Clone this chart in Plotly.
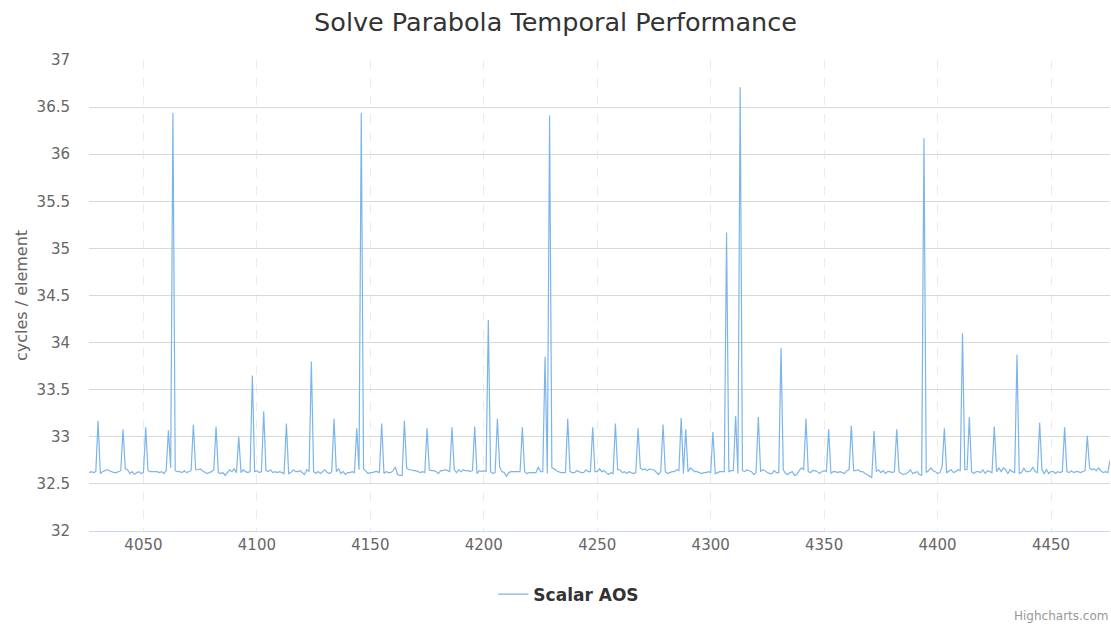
import plotly.graph_objects as go

x_start = 4026
y_values = [
    32.62, 32.63, 32.62, 32.63, 33.17, 32.61, 32.63, 32.64, 32.65, 32.64,  # 4026
    32.63, 32.62, 32.62, 32.63, 32.64, 33.08, 32.66, 32.65, 32.61, 32.63,  # 4036
    32.60, 32.62, 32.63, 32.61, 32.62, 33.10, 32.64, 32.63, 32.63, 32.63,  # 4046
    32.63, 32.62, 32.63, 32.61, 32.64, 33.07, 32.67, 36.44, 32.64, 32.63,  # 4056
    32.63, 32.62, 32.64, 32.62, 32.63, 32.64, 33.13, 32.65, 32.65, 32.66,  # 4066
    32.64, 32.62, 32.61, 32.62, 32.63, 32.65, 33.11, 32.62, 32.61, 32.62,  # 4076
    32.59, 32.62, 32.65, 32.63, 32.66, 32.62, 33.00, 32.62, 32.65, 32.63,  # 4086
    32.62, 32.63, 33.65, 32.63, 32.64, 32.62, 32.63, 33.27, 32.64, 32.63,  # 4096
    32.65, 32.62, 32.63, 32.62, 32.63, 32.62, 32.61, 33.14, 32.61, 32.62,  # 4106
    32.65, 32.63, 32.63, 32.64, 32.62, 32.60, 32.65, 32.63, 33.80, 32.63,  # 4116
    32.61, 32.63, 32.61, 32.63, 32.65, 32.62, 32.61, 32.63, 33.19, 32.63,  # 4126
    32.66, 32.61, 32.63, 32.60, 32.62, 32.62, 32.63, 32.62, 33.09, 32.65,  # 4136
    36.44, 32.66, 32.63, 32.61, 32.62, 32.62, 32.63, 32.63, 32.62, 33.14,  # 4146
    32.61, 32.63, 32.62, 32.62, 32.64, 32.68, 32.60, 32.59, 32.59, 33.17,  # 4156
    32.67, 32.65, 32.65, 32.64, 32.64, 32.63, 32.62, 32.63, 32.62, 33.09,  # 4166
    32.65, 32.64, 32.64, 32.63, 32.61, 32.64, 32.64, 32.65, 32.64, 32.63,  # 4176
    33.10, 32.65, 32.62, 32.65, 32.63, 32.65, 32.64, 32.64, 32.63, 32.64,  # 4186
    33.11, 32.61, 32.64, 32.63, 32.64, 32.63, 34.24, 32.63, 32.61, 32.62,  # 4196
    33.19, 32.68, 32.63, 32.62, 32.58, 32.62, 32.63, 32.63, 32.63, 32.63,  # 4206
    32.63, 33.10, 32.63, 32.61, 32.62, 32.62, 32.62, 32.62, 32.68, 32.63,  # 4216
    32.63, 33.85, 32.61, 36.41, 32.67, 32.66, 32.64, 32.63, 32.62, 32.62,  # 4226
    32.62, 33.19, 32.63, 32.62, 32.62, 32.64, 32.63, 32.62, 32.62, 32.65,  # 4236
    32.63, 32.63, 33.10, 32.63, 32.63, 32.66, 32.63, 32.64, 32.62, 32.60,  # 4246
    32.62, 32.61, 33.14, 32.65, 32.65, 32.62, 32.63, 32.61, 32.63, 32.62,  # 4256
    32.61, 32.62, 33.09, 32.67, 32.65, 32.66, 32.64, 32.66, 32.65, 32.65,  # 4266
    32.63, 32.60, 32.63, 33.13, 32.63, 32.61, 32.62, 32.63, 32.63, 32.65,  # 4276
    32.64, 33.20, 32.61, 33.08, 32.63, 32.67, 32.65, 32.63, 32.63, 32.62,  # 4286
    32.61, 32.62, 32.62, 32.63, 32.62, 33.05, 32.61, 32.62, 32.63, 32.63,  # 4296
    32.63, 35.17, 32.63, 32.64, 32.64, 33.22, 32.61, 36.71, 32.64, 32.63,  # 4306
    32.65, 32.64, 32.63, 32.60, 32.62, 33.21, 32.63, 32.65, 32.64, 32.62,  # 4316
    32.61, 32.61, 32.64, 32.62, 32.62, 33.94, 32.65, 32.61, 32.60, 32.62,  # 4326
    32.63, 32.59, 32.60, 32.64, 32.67, 32.65, 33.19, 32.63, 32.62, 32.64,  # 4336
    32.64, 32.63, 32.61, 32.63, 32.64, 32.63, 33.08, 32.61, 32.63, 32.63,  # 4346
    32.62, 32.63, 32.62, 32.61, 32.64, 32.65, 33.12, 32.64, 32.64, 32.65,  # 4356
    32.63, 32.63, 32.61, 32.60, 32.58, 32.57, 33.06, 32.63, 32.65, 32.62,  # 4366
    32.64, 32.61, 32.63, 32.63, 32.62, 32.63, 33.08, 32.63, 32.61, 32.60,  # 4376
    32.61, 32.62, 32.65, 32.61, 32.62, 32.63, 32.60, 32.59, 36.17, 32.62,  # 4386
    32.64, 32.67, 32.64, 32.63, 32.61, 32.62, 32.68, 33.09, 32.62, 32.64,  # 4396
    32.65, 32.62, 32.63, 32.65, 32.64, 34.10, 32.65, 32.65, 33.21, 32.63,  # 4406
    32.61, 32.63, 32.63, 32.62, 32.65, 32.61, 32.64, 32.63, 32.62, 33.11,  # 4416
    32.63, 32.67, 32.63, 32.67, 32.65, 32.61, 32.65, 32.63, 32.62, 33.87,  # 4426
    32.61, 32.62, 32.67, 32.63, 32.63, 32.64, 32.68, 32.63, 32.62, 33.15,  # 4436
    32.65, 32.61, 32.65, 32.61, 32.63, 32.63, 32.61, 32.63, 32.62, 32.63,  # 4446
    33.10, 32.63, 32.62, 32.64, 32.62, 32.63, 32.63, 32.62, 32.63, 32.64,  # 4456
    33.01, 32.67, 32.65, 32.66, 32.64, 32.67, 32.64, 32.62, 32.63, 32.62,  # 4466
    32.75,                                                                 # 4476
]
x_values = list(range(x_start, x_start + len(y_values)))

series_name = "Scalar AOS"
chart_title = "Solve Parabola Temporal Performance"
y_title = "cycles / element"
y_ticks = [32, 32.5, 33, 33.5, 34, 34.5, 35, 35.5, 36, 36.5, 37]
x_ticks = [4050, 4100, 4150, 4200, 4250, 4300, 4350, 4400, 4450]

font_family = "DejaVu Sans, Verdana, sans-serif"

fig = go.Figure()
fig.add_trace(go.Scatter(
    x=x_values, y=y_values, mode="lines", name="<b>" + series_name + "</b>",
    line=dict(color="#7cb5ec", width=1.2),
))

fig.update_layout(
    width=1111, height=631,
    paper_bgcolor="white", plot_bgcolor="white",
    margin=dict(l=89, r=1, t=60, b=100),
    font=dict(family=font_family, color="#666666"),
    title=dict(text=chart_title, x=0.5, xanchor="center", y=0.965, yanchor="middle",
               font=dict(size=25.5, color="#333333", family=font_family)),
    showlegend=True,
    legend=dict(orientation="h", x=0.47, xanchor="center", y=-0.135, yanchor="middle",
                font=dict(size=17, color="#333333", family=font_family),
                itemwidth=30),
    xaxis=dict(
        range=[x_values[0], x_values[-1]],
        tickmode="array", tickvals=x_ticks, ticktext=[str(t) for t in x_ticks],
        showgrid=True, gridcolor="#ebebeb", griddash="dash", gridwidth=1,
        showline=True, linecolor="#ccd6eb", linewidth=1,
        ticks="", zeroline=False,
        tickfont=dict(size=15, color="#666666"),
    ),
    yaxis=dict(
        range=[32, 37],
        tickmode="array", tickvals=y_ticks, ticktext=[f"{t:g}" for t in y_ticks],
        showgrid=True, gridcolor="#d8d8d8", gridwidth=1,
        zeroline=False, showline=False, ticks="",
        ticklabelstandoff=18,
        tickfont=dict(size=15, color="#666666"),
        title=dict(text=y_title, font=dict(size=16, color="#666666"), standoff=4),
    ),
)

fig.add_annotation(
    text="Highcharts.com", xref="paper", yref="paper", x=1, xanchor="right",
    y=-0.175, yanchor="middle", yshift=-3, showarrow=False,
    font=dict(size=12, color="#999999", family=font_family),
)

fig.write_html("out.html")
